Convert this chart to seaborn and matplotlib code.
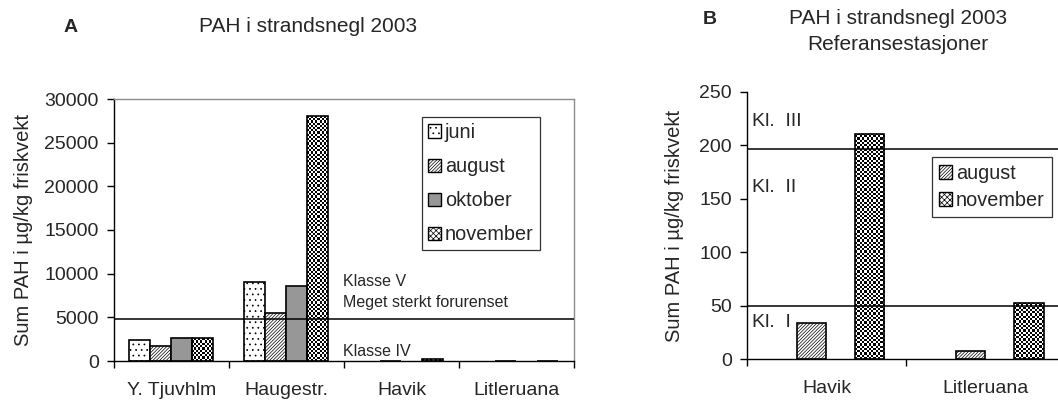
import numpy as np
import pandas as pd
import matplotlib
matplotlib.use("Agg")
import matplotlib.pyplot as plt
import seaborn as sns
from matplotlib.patches import Patch

# ---------------- data ----------------
months = ["juni", "august", "oktober", "november"]

stations_a = ["Y. Tjuvhlm", "Haugestr.", "Havik", "Litleruana"]
juni_a = [2400, 9100, np.nan, np.nan]
august_a = [1700, 5500, 35, 8]
oktober_a = [2600, 8600, np.nan, np.nan]
november_a = [2600, 28000, 211, 52]
yticks_a = [0, 5000, 10000, 15000, 20000, 25000, 30000]
limit_a = 4800

stations_b = ["Havik", "Litleruana"]
august_b = [34, 7.5]
november_b = [211, 52.5]
yticks_b = [0, 50, 100, 150, 200, 250]
limits_b = [50, 197]

title_main = "PAH i strandsnegl 2003"
title_sub_b = "Referansestasjoner"
ylabel = "Sum PAH i µg/kg friskvekt"

# ---------------- style ----------------
sns.set_style("ticks")
plt.rcParams["font.family"] = ["Liberation Sans", "DejaVu Sans"]
plt.rcParams["hatch.linewidth"] = 0.5

face = {"juni": "white", "august": "white", "oktober": "#979797", "november": "none"}
hatch = {"juni": "...", "august": "//////////", "oktober": None, "november": None}
hcol = {"juni": "black", "august": "#555555", "oktober": "black", "november": "black"}
WIDTH = 0.73
FS = 14


def long_df(stations, series):
    rows = []
    for m, vals in series.items():
        for s, v in zip(stations, vals):
            if not np.isnan(v):
                rows.append({"station": s, "month": m, "value": v})
    return pd.DataFrame(rows)


fig = plt.figure(figsize=(10.58, 4.0), dpi=100)
axA = fig.add_axes([0.1077, 0.0975, 0.4348, 0.655])
axB = fig.add_axes([0.706, 0.1025, 0.3006, 0.6675])


def draw(ax, stations, series, yticks):
    df = long_df(stations, series)
    sns.barplot(data=df, x="station", y="value", hue="month", order=stations,
                hue_order=months, width=WIDTH, errorbar=None, ax=ax,
                palette={m: "white" for m in months}, saturation=1,
                edgecolor="black", linewidth=1.2, legend=False)
    ax.set_xlim(-0.5, len(stations) - 0.5)
    ax.set_ylim(yticks[0], yticks[-1])
    offs = (np.arange(4) - 1.5) * WIDTH / 4
    for bar in ax.patches:
        xc = bar.get_x() + bar.get_width() / 2
        off = xc - round(xc)
        m = months[int(np.argmin(np.abs(offs - off)))]
        bar.set_facecolor(face[m])
        bar.set_edgecolor("black")
        if hatch[m]:
            bar.set_hatch(hatch[m])
            try:
                bar.set_hatchcolor(hcol[m])
            except Exception:
                pass
        if m == "november":
            x0, y0 = bar.get_x(), bar.get_y()
            w, h = bar.get_width(), bar.get_height()
            (px0, py0), (px1, py1) = ax.transData.transform([(x0, y0), (x0 + w, y0 + h)])
            nx = max(1, int(round((px1 - px0) / 2.2)))
            ny = max(1, int(round((py1 - py0) / 2.2)))
            arr = np.indices((ny, nx)).sum(axis=0) % 2
            im = ax.imshow(arr, extent=(x0, x0 + w, y0, y0 + h), cmap="gray",
                           vmin=0, vmax=1, interpolation="nearest", aspect="auto",
                           origin="lower", zorder=bar.get_zorder() - 0.01)
            im.set_clip_path(bar)
    ax.set_xlim(-0.5, len(stations) - 0.5)
    ax.set_ylim(yticks[0], yticks[-1])
    ax.set_yticks(yticks)
    ax.set_yticklabels([str(t) for t in yticks])
    ax.set_xticks(np.arange(len(stations) + 1) - 0.5)
    ax.set_xticklabels([""] * (len(stations) + 1))
    ax.set_xticks(np.arange(len(stations)), minor=True)
    ax.set_xticklabels(stations, minor=True)
    ax.tick_params(axis="x", which="major", direction="out", length=5, width=1, color="black")
    ax.tick_params(axis="x", which="minor", length=0, pad=15, labelsize=FS)
    ax.tick_params(axis="y", direction="out", length=5, width=1, color="black", pad=6, labelsize=FS)
    ax.set_xlabel("")
    ax.set_ylabel(ylabel, fontsize=14.5)
    for s in ["left", "bottom"]:
        ax.spines[s].set_color("black")
        ax.spines[s].set_linewidth(1.0)
    ax.set_facecolor("white")


draw(axA, stations_a, {"juni": juni_a, "august": august_a,
                       "oktober": oktober_a, "november": november_a}, yticks_a)
draw(axB, stations_b, {"juni": [np.nan] * 2, "august": august_b,
                       "oktober": [np.nan] * 2, "november": november_b}, yticks_b)

for s in ["top", "right"]:
    axA.spines[s].set_color("#8c8c8c")
    axA.spines[s].set_linewidth(1.0)
    axB.spines[s].set_visible(False)

axA.yaxis.set_label_coords(-0.176, 0.5)
axB.yaxis.set_label_coords(-0.198, 0.5)

# reference lines
axA.axhline(limit_a, color="black", lw=1.1, zorder=5)
for v in limits_b:
    axB.axhline(v, color="black", lw=1.1, zorder=5)

# annotations
axA.text(1.49, 9160, "Klasse V", fontsize=11.5, va="center", ha="left")
axA.text(1.49, 6755, "Meget sterkt forurenset", fontsize=11.5, va="center", ha="left")
axA.text(1.49, 1145, "Klasse IV", fontsize=11.5, va="center", ha="left")
axB.text(-0.469, 222.8, "Kl.  III", fontsize=FS, va="center", ha="left")
axB.text(-0.469, 161, "Kl.  II", fontsize=FS, va="center", ha="left")
axB.text(-0.469, 34.6, "Kl.  I", fontsize=FS, va="center", ha="left")


# legends
def handle(m):
    if m == "november":
        return Patch(facecolor="white", edgecolor="black", hatch="xxxxxx", label=m)
    return Patch(facecolor=face[m], edgecolor="black", hatch=hatch[m], label=m)


legA = axA.legend(handles=[handle(m) for m in months], loc="upper left",
                  bbox_to_anchor=(0.6696, 0.931), borderaxespad=0, fontsize=14.3,
                  frameon=True, fancybox=False, edgecolor="black",
                  handlelength=0.65, handleheight=0.65, handletextpad=0.2,
                  labelspacing=0.76, borderpad=0.3)
legA.get_frame().set_linewidth(0.9)
legB = axB.legend(handles=[handle(m) for m in ["august", "november"]], loc="upper left",
                  bbox_to_anchor=(0.582, 0.7566), borderaxespad=0, fontsize=14.3,
                  frameon=True, fancybox=False, edgecolor="black",
                  handlelength=0.65, handleheight=0.65, handletextpad=0.2,
                  labelspacing=0.4, borderpad=0.35)
legB.get_frame().set_linewidth(0.9)

# titles
fig.text(71 / 1058, 1 - 27 / 400, "A", fontsize=14, fontweight="bold", ha="center", va="center")
fig.text(308 / 1058, 1 - 27 / 400, title_main, fontsize=15, ha="center", va="center")
fig.text(710 / 1058, 1 - 19 / 400, "B", fontsize=14, fontweight="bold", ha="center", va="center")
fig.text(898 / 1058, 1 - 19 / 400, title_main, fontsize=15, ha="center", va="center")
fig.text(898 / 1058, 1 - 45 / 400, title_sub_b, fontsize=15, ha="center", va="center")

fig.savefig("out.png", dpi=100, facecolor="white")
